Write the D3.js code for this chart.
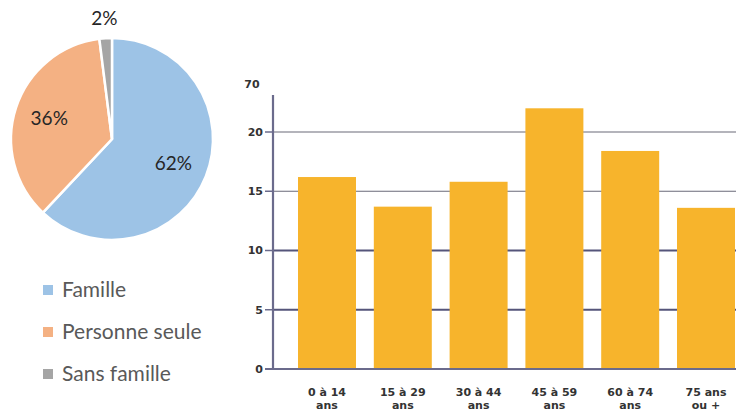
<!DOCTYPE html>
<html><head><meta charset="utf-8">
<script src="https://cdn.jsdelivr.net/npm/d3@7"></script>
<style>body{margin:0;background:#fff;}svg{display:block;}</style>
</head><body>
<svg id="c" width="746" height="412"></svg>
<script>
// Pie data
const pieCategories = ["Famille", "Personne seule", "Sans famille"];
const pieValues = [62, 36, 2];
const pieColors = ["#9DC3E6", "#F4B183", "#A5A5A5"];
// Bar data
const ageGroups = [["0 à 14", "ans"], ["15 à 29", "ans"], ["30 à 44", "ans"], ["45 à 59", "ans"], ["60 à 74", "ans"], ["75 ans", "ou +"]];
const barValues = [16.2, 13.7, 15.8, 22.0, 18.4, 13.6];
const yTicks = [0, 5, 10, 15, 20];
const yTopLabel = "70";

const svg = d3.select("#c");

// ---- Pie ----
const cx = 112, cy = 139, R = 101;
const pie = d3.pie().sort(null).value(d => d)(pieValues);
const arc = d3.arc().innerRadius(0).outerRadius(R);
const g = svg.append("g").attr("transform", `translate(${cx},${cy})`);
g.selectAll("path").data(pie).join("path")
  .attr("d", arc)
  .attr("fill", (d, i) => pieColors[i])
  .attr("stroke", "#fff").attr("stroke-width", 2.5).attr("stroke-linejoin", "miter");
const labelArc = d3.arc().innerRadius(66).outerRadius(66);
const outArc = d3.arc().innerRadius(121).outerRadius(121);
g.selectAll("text").data(pie).join("text")
  .attr("transform", (d, i) => `translate(${(i === 2 ? outArc : labelArc).centroid(d)})`)
  .attr("text-anchor", "middle").attr("dy", "0.35em")
  .attr("font-family", "Lato, 'Open Sans', sans-serif").attr("font-size", 19)
  .attr("fill", "#262626")
  .text(d => d.value + "%");

// Legend
const leg = svg.append("g");
pieCategories.forEach((c, i) => {
  const y = 290 + i * 42;
  leg.append("rect").attr("x", 43).attr("y", y - 5).attr("width", 10).attr("height", 10).attr("fill", pieColors[i]);
  leg.append("text").attr("x", 62).attr("y", y).attr("dy", "0.35em")
    .attr("font-family", "Lato, 'Open Sans', sans-serif").attr("font-size", 21)
    .attr("fill", "#595959").text(c);
});

// ---- Bar chart ----
const x0 = 273, xEnd = 760;
const x = d3.scaleBand().domain(d3.range(ageGroups.length)).range([x0, xEnd]).paddingInner(0.235).paddingOuter(0.33);
const y = d3.scaleLinear().domain([0, 20]).range([369, 132]);
const bc = svg.append("g");
// gridlines
yTicks.filter(t => t > 0).forEach(t => {
  bc.append("line").attr("x1", x0).attr("x2", 736).attr("y1", y(t)).attr("y2", y(t))
    .attr("stroke", t <= 10 ? "#55557a" : "#6a6a78").attr("stroke-width", t <= 10 ? 2 : 1.2);
});
// bars
bc.selectAll("rect.bar").data(barValues).join("rect").attr("class", "bar")
  .attr("x", (d, i) => x(i)).attr("width", x.bandwidth())
  .attr("y", d => y(d)).attr("height", d => y(0) - y(d))
  .attr("fill", "#F7B42C");
// axes lines
bc.append("line").attr("x1", x0).attr("x2", x0).attr("y1", 95).attr("y2", y(0)).attr("stroke", "#6b6b8c").attr("stroke-width", 2.2);
bc.append("line").attr("x1", x0 - 8).attr("x2", 736).attr("y1", y(0)).attr("y2", y(0)).attr("stroke", "#6b6b8c").attr("stroke-width", 2.2);
// tick labels
yTicks.forEach(t => {
  bc.append("text").attr("x", 263).attr("y", y(t)).attr("dy", "0.35em").attr("text-anchor", "end")
    .attr("font-family", "'DejaVu Sans', sans-serif").attr("font-size", 11).attr("font-weight", "bold")
    .attr("fill", "#333").text(t);
  bc.append("line").attr("x1", x0 - 8).attr("x2", x0).attr("y1", y(t)).attr("y2", y(t)).attr("stroke", "#6b6b8c").attr("stroke-width", 1.5);
});
bc.append("text").attr("x", 252).attr("y", 88).attr("text-anchor", "middle")
  .attr("font-family", "'DejaVu Sans', sans-serif").attr("font-size", 11).attr("font-weight", "bold")
  .attr("fill", "#333").text(yTopLabel);
// x labels
ageGroups.forEach((lbl, i) => {
  const t = bc.append("text").attr("x", x(i) + x.bandwidth() / 2).attr("y", 396).attr("text-anchor", "middle")
    .attr("font-family", "'DejaVu Sans', sans-serif").attr("font-size", 11).attr("font-weight", "bold").attr("fill", "#333");
  t.append("tspan").attr("x", x(i) + x.bandwidth() / 2).text(lbl[0]);
  t.append("tspan").attr("x", x(i) + x.bandwidth() / 2).attr("dy", 13).text(lbl[1]);
});
</script>
</body></html>
